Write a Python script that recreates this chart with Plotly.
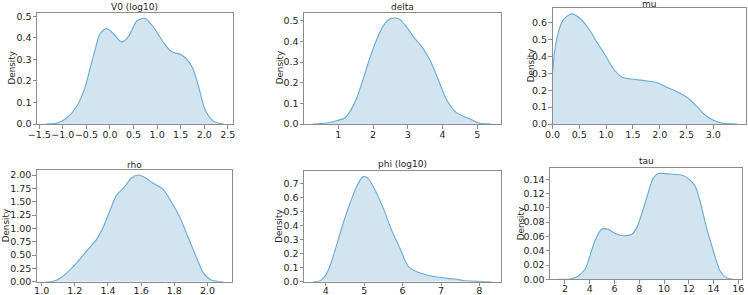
import plotly.graph_objects as go

W, H = 748, 295

# ---- data (x, density) ----
v0_x = [-1.36, -1.27, -1.10, -0.92, -0.71, -0.53, -0.42, -0.32, -0.21, -0.07, 0.07, 0.25, 0.39, 0.57, 0.74, 0.92, 1.13, 1.31, 1.52, 1.74, 1.88, 2.02, 2.20, 2.34, 2.41]
v0_y = [0.0, 0.001, 0.006, 0.028, 0.08, 0.17, 0.26, 0.34, 0.42, 0.443, 0.42, 0.38, 0.405, 0.478, 0.49, 0.45, 0.38, 0.335, 0.32, 0.266, 0.174, 0.066, 0.012, 0.002, 0.0]

delta_x = [0.27, 0.66, 1.00, 1.19, 1.34, 1.53, 1.72, 1.91, 2.10, 2.29, 2.49, 2.73, 2.92, 3.16, 3.40, 3.64, 3.88, 4.12, 4.36, 4.60, 4.84, 5.03, 5.27, 5.41]
delta_y = [0.0, 0.005, 0.018, 0.029, 0.061, 0.125, 0.22, 0.32, 0.407, 0.474, 0.51, 0.511, 0.48, 0.423, 0.375, 0.31, 0.214, 0.117, 0.061, 0.037, 0.021, 0.005, 0.001, 0.0]

mu_x = [0.0, 0.044, 0.106, 0.20, 0.355, 0.51, 0.67, 0.82, 0.98, 1.13, 1.29, 1.47, 1.69, 1.94, 2.13, 2.31, 2.50, 2.69, 2.84, 3.00, 3.15, 3.31, 3.44]
mu_y = [0.30, 0.44, 0.54, 0.616, 0.652, 0.626, 0.567, 0.488, 0.41, 0.33, 0.278, 0.266, 0.258, 0.246, 0.218, 0.193, 0.16, 0.104, 0.055, 0.022, 0.006, 0.001, 0.0]

rho_x = [1.024, 1.07, 1.11, 1.16, 1.21, 1.27, 1.33, 1.37, 1.41, 1.45, 1.50, 1.54, 1.58, 1.62, 1.67, 1.73, 1.78, 1.835, 1.885, 1.936, 1.976, 2.016, 2.056, 2.096]
rho_y = [0.0, 0.006, 0.063, 0.19, 0.35, 0.57, 0.79, 1.01, 1.32, 1.61, 1.78, 1.94, 2.0, 1.96, 1.85, 1.74, 1.51, 1.2, 0.82, 0.44, 0.16, 0.04, 0.006, 0.0]

phi_x = [3.66, 3.84, 3.97, 4.10, 4.28, 4.45, 4.63, 4.80, 4.97, 5.10, 5.28, 5.50, 5.71, 5.93, 6.15, 6.37, 6.63, 6.89, 7.15, 7.41, 7.58, 7.84, 8.10, 8.32]
phi_y = [0.0, 0.005, 0.036, 0.107, 0.26, 0.416, 0.558, 0.677, 0.748, 0.736, 0.653, 0.52, 0.368, 0.238, 0.107, 0.071, 0.048, 0.033, 0.024, 0.017, 0.009, 0.004, 0.001, 0.0]

tau_x = [1.5, 2.4, 3.08, 3.62, 4.02, 4.42, 4.96, 5.5, 6.04, 6.71, 7.39, 7.79, 8.19, 8.6, 9.14, 9.54, 10.08, 10.75, 11.42, 11.96, 12.5, 12.9, 13.44, 13.98, 14.52, 15.06, 15.6]
tau_y = [0.0, 0.0005, 0.0047, 0.014, 0.033, 0.054, 0.07, 0.07, 0.064, 0.061, 0.063, 0.072, 0.091, 0.114, 0.142, 0.148, 0.148, 0.147, 0.146, 0.141, 0.131, 0.11, 0.072, 0.04, 0.012, 0.002, 0.0]

titles = ["V0 (log10)", "delta", "mu", "rho", "phi (log10)", "tau"]

v0_ticks = [-1.5, -1.0, -0.5, 0.0, 0.5, 1.0, 1.5, 2.0, 2.5]
delta_ticks = [1, 2, 3, 4, 5]
mu_ticks = [0.0, 0.5, 1.0, 1.5, 2.0, 2.5, 3.0]
rho_ticks = [1.0, 1.2, 1.4, 1.6, 1.8, 2.0]
phi_ticks = [4, 5, 6, 7, 8]
tau_ticks = [2, 4, 6, 8, 10, 12, 14, 16]

v0_yt = [0.0, 0.1, 0.2, 0.3, 0.4, 0.5]
delta_yt = [0.0, 0.1, 0.2, 0.3, 0.4, 0.5]
mu_yt = [0.0, 0.1, 0.2, 0.3, 0.4, 0.5, 0.6]
rho_yt = [0.0, 0.25, 0.5, 0.75, 1.0, 1.25, 1.5, 1.75, 2.0]
phi_yt = [0.0, 0.1, 0.2, 0.3, 0.4, 0.5, 0.6, 0.7]
tau_yt = [0.0, 0.02, 0.04, 0.06, 0.08, 0.10, 0.12, 0.14]

# ---- layout (pixel boxes) ----
boxes = [  # left, right, top, bottom
    (37, 232.5, 13, 124),
    (304, 500.5, 12.7, 124),
    (552.5, 746, 8.3, 124),
    (36.7, 232.3, 170, 281.7),
    (304, 500.5, 171, 281.7),
    (550, 742, 168.3, 279.3),
]
xranges = [(-1.549, 2.60), (0.013, 5.67), (0.0, 3.61), (0.97, 2.15), (3.43, 8.55), (0.79, 16.30)]
yranges = [(0, 0.515), (0, 0.539), (0, 0.685), (0, 2.095), (0, 0.788), (0, 0.1554)]
ylabel_x = [11, 280, 531, 5.5, 279.5, 520.5]
title_y = [6.9, 6.9, 3.8, 164.6, 164.0, 161.2]
xstand = [-2, -2, -2, -4, -4, -3]

series = [(v0_x, v0_y), (delta_x, delta_y), (mu_x, mu_y), (rho_x, rho_y), (phi_x, phi_y), (tau_x, tau_y)]
xticks = [v0_ticks, delta_ticks, mu_ticks, rho_ticks, phi_ticks, tau_ticks]
yticks = [v0_yt, delta_yt, mu_yt, rho_yt, phi_yt, tau_yt]
xfmt = ["%.1f", "%d", "%.1f", "%.1f", "%d", "%d"]
yfmt = ["%.1f", "%.1f", "%.1f", "%.2f", "%.1f", "%.2f"]

LINE = "#6aaad4"
FILL = "rgba(31,119,180,0.2)"
FRAME = "#8c8c8c"
TXT = "#262626"
FONT = "DejaVu Sans"
FS = 9
TFS = 9.5


def lab(v, f):
    s = f % v
    return s.replace("-", "\u2212")


fig = go.Figure()
annotations = []
for i in range(6):
    n = "" if i == 0 else str(i + 1)
    xs, ys = series[i]
    fig.add_trace(go.Scatter(
        x=xs, y=ys, mode="lines", line=dict(color=LINE, width=1.1, shape="spline", smoothing=0.8),
        fill="tozeroy", fillcolor=FILL, xaxis="x" + n, yaxis="y" + n, showlegend=False,
        hoverinfo="skip"))
    l, r, t, b = boxes[i]
    common = dict(showgrid=False, zeroline=False, showline=True, mirror=True,
                  linecolor=FRAME, linewidth=1, ticks="outside", ticklen=3.5,
                  tickcolor=FRAME, tickwidth=1, automargin=False,
                  tickfont=dict(family=FONT, size=TFS, color=TXT))
    fig.layout["xaxis" + n] = dict(
        domain=[l / W, r / W], range=list(xranges[i]), anchor="y" + n,
        tickmode="array", tickvals=xticks[i], ticktext=[lab(v, xfmt[i]) for v in xticks[i]],
        tickangle=0, ticklabelstandoff=xstand[i], **common)
    fig.layout["yaxis" + n] = dict(
        domain=[1 - b / H, 1 - t / H], range=list(yranges[i]), anchor="x" + n,
        tickmode="array", tickvals=yticks[i], ticktext=[lab(v, yfmt[i]) for v in yticks[i]],
        ticklabelstandoff=-1, **common)
    annotations.append(dict(text=titles[i], x=(l + r) / 2 / W, y=1 - title_y[i] / H,
                            xref="paper", yref="paper", xanchor="center", yanchor="middle",
                            showarrow=False, font=dict(family=FONT, size=FS, color=TXT)))
    annotations.append(dict(text="Density", x=ylabel_x[i] / W, y=1 - (t + b) / 2 / H,
                            xref="paper", yref="paper", xanchor="center", yanchor="middle",
                            textangle=-90, showarrow=False,
                            font=dict(family=FONT, size=8.8, color=TXT)))

fig.update_layout(width=W, height=H, margin=dict(l=0, r=0, t=0, b=0),
                  paper_bgcolor="white", plot_bgcolor="white", annotations=annotations)
fig.write_html("out.html", config={"displayModeBar": False},
               post_script="document.body.style.margin='0';document.body.style.padding='0';"
                           "document.body.style.overflow='hidden';")
